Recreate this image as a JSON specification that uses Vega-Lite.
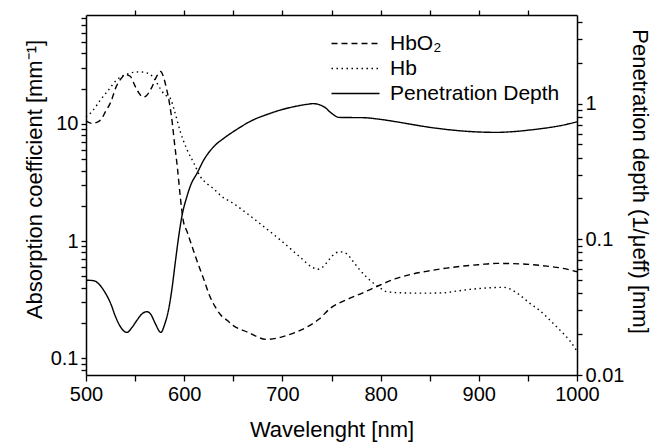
{
  "$schema": "https://vega.github.io/schema/vega-lite/v6.json",
  "width": 491,
  "height": 360,
  "autosize": "none",
  "padding": {"left": 86, "top": 15, "right": 83, "bottom": 71},
  "background": "white",
  "config": {
    "view": {"stroke": null},
    "font": "Liberation Sans",
    "axis": {
      "grid": false,
      "ticks": true,
      "domainColor": "black",
      "domainWidth": 1.5,
      "tickColor": "black",
      "tickWidth": 1.3,
      "labelColor": "black",
      "titleColor": "black",
      "labelFont": "Liberation Sans",
      "titleFont": "Liberation Sans",
      "labelFontSize": 20,
      "titleFontSize": 22,
      "titleFontWeight": "normal",
      "labelOverlap": false,
      "labelFlush": false,
      "labelPadding": 3
    }
  },
  "data": {
    "values": [
      {"wavelength": 500, "series": "HbO₂", "value": 10.6},
      {"wavelength": 506, "series": "HbO₂", "value": 10.1},
      {"wavelength": 511, "series": "HbO₂", "value": 10.3},
      {"wavelength": 516, "series": "HbO₂", "value": 11.1},
      {"wavelength": 520, "series": "HbO₂", "value": 12.8},
      {"wavelength": 525, "series": "HbO₂", "value": 15.2},
      {"wavelength": 531, "series": "HbO₂", "value": 21},
      {"wavelength": 536, "series": "HbO₂", "value": 24.5},
      {"wavelength": 540, "series": "HbO₂", "value": 26.4},
      {"wavelength": 545, "series": "HbO₂", "value": 25.5},
      {"wavelength": 550, "series": "HbO₂", "value": 21},
      {"wavelength": 555, "series": "HbO₂", "value": 17.8},
      {"wavelength": 558, "series": "HbO₂", "value": 16.9},
      {"wavelength": 562, "series": "HbO₂", "value": 17.6},
      {"wavelength": 567, "series": "HbO₂", "value": 20.5},
      {"wavelength": 572, "series": "HbO₂", "value": 25.5},
      {"wavelength": 576, "series": "HbO₂", "value": 28},
      {"wavelength": 579, "series": "HbO₂", "value": 25},
      {"wavelength": 582, "series": "HbO₂", "value": 20},
      {"wavelength": 585, "series": "HbO₂", "value": 15},
      {"wavelength": 588, "series": "HbO₂", "value": 10},
      {"wavelength": 590, "series": "HbO₂", "value": 7},
      {"wavelength": 593, "series": "HbO₂", "value": 4.3},
      {"wavelength": 596, "series": "HbO₂", "value": 2.4},
      {"wavelength": 599, "series": "HbO₂", "value": 1.5},
      {"wavelength": 603, "series": "HbO₂", "value": 1.2},
      {"wavelength": 608, "series": "HbO₂", "value": 0.9},
      {"wavelength": 613, "series": "HbO₂", "value": 0.68},
      {"wavelength": 620, "series": "HbO₂", "value": 0.47},
      {"wavelength": 626, "series": "HbO₂", "value": 0.34},
      {"wavelength": 631, "series": "HbO₂", "value": 0.28},
      {"wavelength": 637, "series": "HbO₂", "value": 0.235},
      {"wavelength": 644, "series": "HbO₂", "value": 0.21},
      {"wavelength": 650, "series": "HbO₂", "value": 0.19},
      {"wavelength": 664, "series": "HbO₂", "value": 0.168},
      {"wavelength": 684, "series": "HbO₂", "value": 0.145},
      {"wavelength": 698, "series": "HbO₂", "value": 0.151},
      {"wavelength": 712, "series": "HbO₂", "value": 0.165},
      {"wavelength": 725, "series": "HbO₂", "value": 0.185},
      {"wavelength": 737, "series": "HbO₂", "value": 0.215},
      {"wavelength": 749, "series": "HbO₂", "value": 0.268},
      {"wavelength": 765, "series": "HbO₂", "value": 0.315},
      {"wavelength": 782, "series": "HbO₂", "value": 0.362},
      {"wavelength": 799, "series": "HbO₂", "value": 0.42},
      {"wavelength": 816, "series": "HbO₂", "value": 0.48},
      {"wavelength": 833, "series": "HbO₂", "value": 0.525},
      {"wavelength": 850, "series": "HbO₂", "value": 0.558},
      {"wavelength": 867, "series": "HbO₂", "value": 0.588},
      {"wavelength": 884, "series": "HbO₂", "value": 0.612},
      {"wavelength": 901, "series": "HbO₂", "value": 0.63},
      {"wavelength": 918, "series": "HbO₂", "value": 0.645},
      {"wavelength": 935, "series": "HbO₂", "value": 0.642},
      {"wavelength": 952, "series": "HbO₂", "value": 0.632},
      {"wavelength": 969, "series": "HbO₂", "value": 0.612},
      {"wavelength": 986, "series": "HbO₂", "value": 0.585},
      {"wavelength": 1000, "series": "HbO₂", "value": 0.548},

      {"wavelength": 500, "series": "Hb", "value": 11.5},
      {"wavelength": 507, "series": "Hb", "value": 13},
      {"wavelength": 514.6, "series": "Hb", "value": 16},
      {"wavelength": 523, "series": "Hb", "value": 19.5},
      {"wavelength": 531, "series": "Hb", "value": 23.6},
      {"wavelength": 541.7, "series": "Hb", "value": 26.6},
      {"wavelength": 548, "series": "Hb", "value": 27.5},
      {"wavelength": 555, "series": "Hb", "value": 27.8},
      {"wavelength": 560, "series": "Hb", "value": 27.5},
      {"wavelength": 565, "series": "Hb", "value": 26.6},
      {"wavelength": 570, "series": "Hb", "value": 24},
      {"wavelength": 575.6, "series": "Hb", "value": 20},
      {"wavelength": 580, "series": "Hb", "value": 17.8},
      {"wavelength": 585.8, "series": "Hb", "value": 16.5},
      {"wavelength": 590, "series": "Hb", "value": 13},
      {"wavelength": 596, "series": "Hb", "value": 8.6},
      {"wavelength": 603, "series": "Hb", "value": 6},
      {"wavelength": 610, "series": "Hb", "value": 4.6},
      {"wavelength": 616, "series": "Hb", "value": 3.6},
      {"wavelength": 623, "series": "Hb", "value": 3.1},
      {"wavelength": 630, "series": "Hb", "value": 2.8},
      {"wavelength": 637, "series": "Hb", "value": 2.45},
      {"wavelength": 650, "series": "Hb", "value": 2.1},
      {"wavelength": 664, "series": "Hb", "value": 1.72},
      {"wavelength": 680, "series": "Hb", "value": 1.35},
      {"wavelength": 698, "series": "Hb", "value": 1.02},
      {"wavelength": 718, "series": "Hb", "value": 0.73},
      {"wavelength": 730, "series": "Hb", "value": 0.6},
      {"wavelength": 736, "series": "Hb", "value": 0.575},
      {"wavelength": 741, "series": "Hb", "value": 0.6},
      {"wavelength": 748.5, "series": "Hb", "value": 0.71},
      {"wavelength": 754, "series": "Hb", "value": 0.79},
      {"wavelength": 759, "series": "Hb", "value": 0.81},
      {"wavelength": 765, "series": "Hb", "value": 0.785},
      {"wavelength": 772, "series": "Hb", "value": 0.67},
      {"wavelength": 779, "series": "Hb", "value": 0.565},
      {"wavelength": 786, "series": "Hb", "value": 0.49},
      {"wavelength": 793, "series": "Hb", "value": 0.435},
      {"wavelength": 800, "series": "Hb", "value": 0.395},
      {"wavelength": 806, "series": "Hb", "value": 0.37},
      {"wavelength": 820, "series": "Hb", "value": 0.362},
      {"wavelength": 833, "series": "Hb", "value": 0.36},
      {"wavelength": 850, "series": "Hb", "value": 0.36},
      {"wavelength": 864, "series": "Hb", "value": 0.362},
      {"wavelength": 878, "series": "Hb", "value": 0.375},
      {"wavelength": 891, "series": "Hb", "value": 0.387},
      {"wavelength": 908, "series": "Hb", "value": 0.398},
      {"wavelength": 925, "series": "Hb", "value": 0.403},
      {"wavelength": 932, "series": "Hb", "value": 0.39},
      {"wavelength": 942, "series": "Hb", "value": 0.345},
      {"wavelength": 952, "series": "Hb", "value": 0.294},
      {"wavelength": 961, "series": "Hb", "value": 0.26},
      {"wavelength": 969, "series": "Hb", "value": 0.226},
      {"wavelength": 978, "series": "Hb", "value": 0.19},
      {"wavelength": 986, "series": "Hb", "value": 0.163},
      {"wavelength": 993, "series": "Hb", "value": 0.14},
      {"wavelength": 1000, "series": "Hb", "value": 0.115},

      {"wavelength": 500, "series": "Penetration Depth", "value": 0.05},
      {"wavelength": 508, "series": "Penetration Depth", "value": 0.0495},
      {"wavelength": 514, "series": "Penetration Depth", "value": 0.0461},
      {"wavelength": 519, "series": "Penetration Depth", "value": 0.041},
      {"wavelength": 525, "series": "Penetration Depth", "value": 0.0338},
      {"wavelength": 530, "series": "Penetration Depth", "value": 0.027},
      {"wavelength": 535, "series": "Penetration Depth", "value": 0.0227},
      {"wavelength": 541.7, "series": "Penetration Depth", "value": 0.0206},
      {"wavelength": 547, "series": "Penetration Depth", "value": 0.0225},
      {"wavelength": 552, "series": "Penetration Depth", "value": 0.0254},
      {"wavelength": 557, "series": "Penetration Depth", "value": 0.0282},
      {"wavelength": 562, "series": "Penetration Depth", "value": 0.0293},
      {"wavelength": 566, "series": "Penetration Depth", "value": 0.028},
      {"wavelength": 570.5, "series": "Penetration Depth", "value": 0.024},
      {"wavelength": 576.3, "series": "Penetration Depth", "value": 0.0206},
      {"wavelength": 580, "series": "Penetration Depth", "value": 0.0235},
      {"wavelength": 584, "series": "Penetration Depth", "value": 0.0301},
      {"wavelength": 587.5, "series": "Penetration Depth", "value": 0.043},
      {"wavelength": 590.8, "series": "Penetration Depth", "value": 0.0665},
      {"wavelength": 594, "series": "Penetration Depth", "value": 0.1},
      {"wavelength": 597.6, "series": "Penetration Depth", "value": 0.147},
      {"wavelength": 602.7, "series": "Penetration Depth", "value": 0.206},
      {"wavelength": 607, "series": "Penetration Depth", "value": 0.255},
      {"wavelength": 613, "series": "Penetration Depth", "value": 0.306},
      {"wavelength": 620, "series": "Penetration Depth", "value": 0.385},
      {"wavelength": 630, "series": "Penetration Depth", "value": 0.481},
      {"wavelength": 641, "series": "Penetration Depth", "value": 0.56},
      {"wavelength": 652, "series": "Penetration Depth", "value": 0.635},
      {"wavelength": 670, "series": "Penetration Depth", "value": 0.757},
      {"wavelength": 685, "series": "Penetration Depth", "value": 0.835},
      {"wavelength": 698, "series": "Penetration Depth", "value": 0.897},
      {"wavelength": 712, "series": "Penetration Depth", "value": 0.95},
      {"wavelength": 725, "series": "Penetration Depth", "value": 0.988},
      {"wavelength": 731.5, "series": "Penetration Depth", "value": 1.0},
      {"wavelength": 738, "series": "Penetration Depth", "value": 0.98},
      {"wavelength": 744, "series": "Penetration Depth", "value": 0.93},
      {"wavelength": 748.5, "series": "Penetration Depth", "value": 0.867},
      {"wavelength": 753, "series": "Penetration Depth", "value": 0.82},
      {"wavelength": 757, "series": "Penetration Depth", "value": 0.792},
      {"wavelength": 765, "series": "Penetration Depth", "value": 0.79},
      {"wavelength": 782, "series": "Penetration Depth", "value": 0.788},
      {"wavelength": 800, "series": "Penetration Depth", "value": 0.765},
      {"wavelength": 816, "series": "Penetration Depth", "value": 0.735},
      {"wavelength": 833, "series": "Penetration Depth", "value": 0.7},
      {"wavelength": 850, "series": "Penetration Depth", "value": 0.669},
      {"wavelength": 867, "series": "Penetration Depth", "value": 0.645},
      {"wavelength": 884, "series": "Penetration Depth", "value": 0.628},
      {"wavelength": 900, "series": "Penetration Depth", "value": 0.618},
      {"wavelength": 918, "series": "Penetration Depth", "value": 0.614},
      {"wavelength": 935, "series": "Penetration Depth", "value": 0.622},
      {"wavelength": 952, "series": "Penetration Depth", "value": 0.639},
      {"wavelength": 969, "series": "Penetration Depth", "value": 0.662},
      {"wavelength": 986, "series": "Penetration Depth", "value": 0.695},
      {"wavelength": 1000, "series": "Penetration Depth", "value": 0.735}
    ]
  },
  "layer": [
    {
      "transform": [{"filter": "datum.series != 'Penetration Depth'"}],
      "mark": {"type": "line", "interpolate": "monotone", "strokeWidth": 1.4, "color": "black"},
      "encoding": {
        "x": {
          "field": "wavelength",
          "type": "quantitative",
          "scale": {"domain": [500, 1000], "nice": false, "zero": false},
          "axis": {
            "orient": "bottom",
            "title": "Wavelenght [nm]",
            "values": [500, 550, 600, 650, 700, 750, 800, 850, 900, 950, 1000],
            "labelExpr": "datum.value % 100 == 0 ? format(datum.value, 'd') : ''",
            "tickSize": 6,
            "titlePadding": 15
          }
        },
        "y": {
          "field": "value",
          "type": "quantitative",
          "scale": {"type": "log", "domain": [0.072, 85], "nice": false},
          "axis": {
            "orient": "left",
            "title": "Absorption coefficient [mm⁻¹]",
            "titleY": 164,
            "values": [0.08, 0.09, 0.1, 0.2, 0.3, 0.4, 0.5, 0.6, 0.7, 0.8, 0.9, 1, 2, 3, 4, 5, 6, 7, 8, 9, 10, 20, 30, 40, 50, 60, 70, 80],
            "labelExpr": "datum.value == 0.1 ? '0.1' : datum.value == 1 ? '1' : datum.value == 10 ? '10' : ''",
            "tickSize": 5
          }
        },
        "strokeDash": {
          "field": "series",
          "type": "nominal",
          "scale": {"domain": ["HbO₂", "Hb", "Penetration Depth"], "range": [[6, 4], [1.5, 3.5], [1, 0]]},
          "legend": {
            "title": null,
            "orient": "none",
            "legendX": 259,
            "legendY": 18,
            "symbolType": "M-4,0H4",
            "symbolSize": 144,
            "labelFontSize": 21,
            "labelOffset": 24,
            "labelLimit": 400,
            "rowPadding": 3
          }
        }
      }
    },
    {
      "transform": [{"filter": "datum.series == 'Penetration Depth'"}],
      "mark": {"type": "line", "interpolate": "monotone", "strokeWidth": 1.4, "color": "black"},
      "encoding": {
        "x": {
          "field": "wavelength",
          "type": "quantitative",
          "axis": {
            "orient": "top",
            "title": null,
            "labels": false,
            "values": [550, 600, 650, 700, 750, 800, 850, 900, 950],
            "tickSize": 5
          }
        },
        "y": {
          "field": "value",
          "type": "quantitative",
          "scale": {"type": "log", "domain": [0.01, 4.5], "nice": false},
          "axis": {
            "orient": "right",
            "title": "Penetration depth (1/μeff) [mm]",
            "titleY": 166,
            "values": [0.01, 0.02, 0.03, 0.04, 0.05, 0.06, 0.07, 0.08, 0.09, 0.1, 0.2, 0.3, 0.4, 0.5, 0.6, 0.7, 0.8, 0.9, 1, 2, 3, 4],
            "labelExpr": "datum.value == 0.01 ? '0.01' : datum.value == 0.1 ? '0.1' : datum.value == 1 ? '1' : ''",
            "tickSize": 5
          }
        },
        "strokeDash": {"field": "series", "type": "nominal"}
      }
    }
  ],
  "resolve": {"scale": {"y": "independent"}, "axis": {"x": "independent"}}
}
